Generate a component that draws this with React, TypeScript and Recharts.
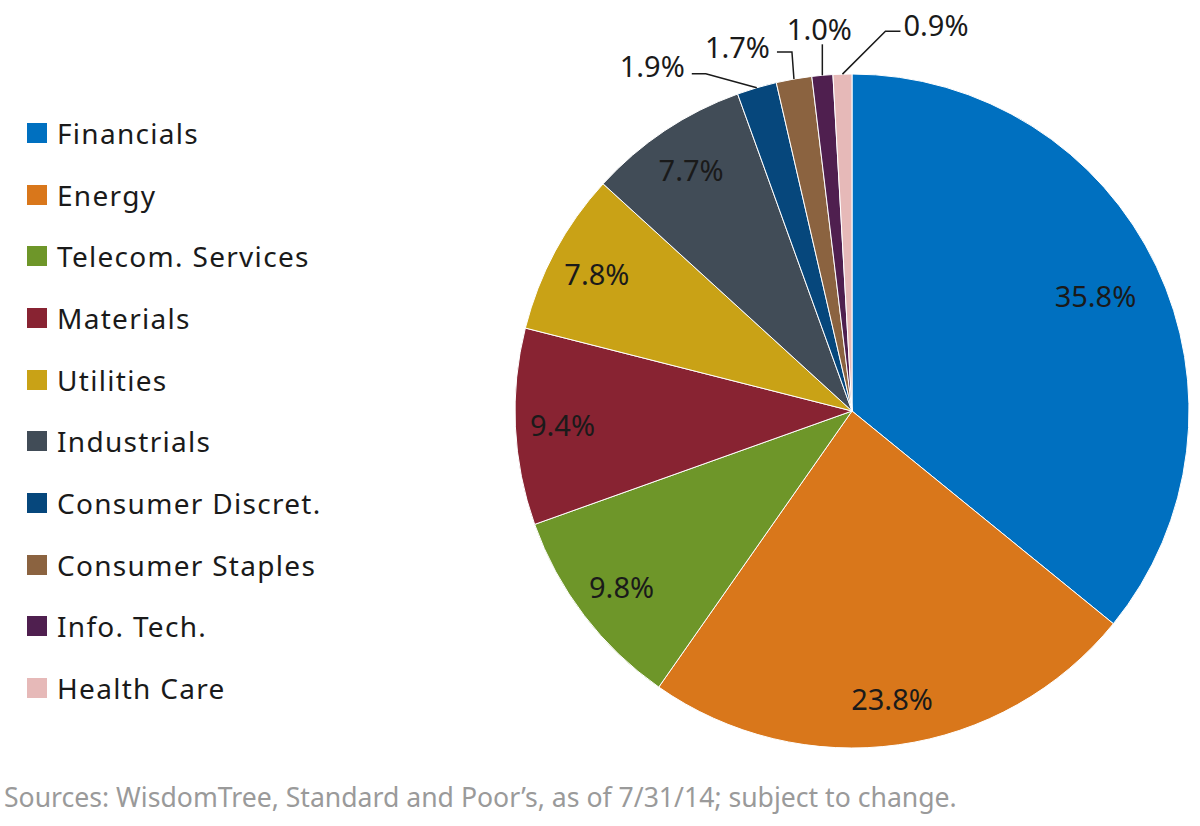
import { Cell, Pie, PieChart } from "recharts";

const sectors = [
  "Financials",
  "Energy",
  "Telecom. Services",
  "Materials",
  "Utilities",
  "Industrials",
  "Consumer Discret.",
  "Consumer Staples",
  "Info. Tech.",
  "Health Care",
];
const weights = [35.8, 23.8, 9.8, 9.4, 7.8, 7.7, 1.9, 1.7, 1.0, 0.9];
const colors = [
  "#0070C0",
  "#D9771B",
  "#6E9629",
  "#882332",
  "#C9A216",
  "#414C57",
  "#06477C",
  "#8B6340",
  "#4F1F4F",
  "#E6B9B8",
];

const data = sectors.map((name, i) => ({ name, value: weights[i] }));

// leader line callouts for thin slices, relative to the slice edge
const callouts: Record<number, { elbow: [number, number]; end: [number, number]; text: [number, number]; anchor: "start" | "middle" | "end" }> = {
  6: { elbow: [-51, -14], end: [-65, -14], text: [-72, -22], anchor: "end" },
  7: { elbow: [-2, -27], end: [-17, -27], text: [-24, -33], anchor: "end" },
  8: { elbow: [0, -31], end: [0, -31], text: [-3, -47], anchor: "middle" },
  9: { elbow: [43, -43], end: [58, -43], text: [61, -50], anchor: "start" },
};

const FONT = "'Noto Sans', 'Open Sans', sans-serif";
const RAD = Math.PI / 180;

function renderLabel(props: any) {
  const { cx, cy, midAngle, outerRadius, index, value } = props;
  const text = `${Number(value).toFixed(1)}%`;
  const cos = Math.cos(-midAngle * RAD);
  const sin = Math.sin(-midAngle * RAD);
  const c = callouts[index];
  if (c) {
    const ax = cx + outerRadius * cos;
    const ay = cy + outerRadius * sin;
    const pts = [
      [ax, ay],
      [ax + c.elbow[0], ay + c.elbow[1]],
      [ax + c.end[0], ay + c.end[1]],
    ]
      .map((p) => p.join(","))
      .join(" ");
    return (
      <g key={`lbl-${index}`}>
        <polyline points={pts} fill="none" stroke="#1a1a1a" strokeWidth={1.5} />
        <text
          x={ax + c.text[0]}
          y={ay + c.text[1]}
          textAnchor={c.anchor}
          dominantBaseline="central"
          fontFamily={FONT}
          fontSize={29}
          fill="#1a1a1a"
        >
          {text}
        </text>
      </g>
    );
  }
  const r = outerRadius * (index === 0 ? 0.8 : 0.86);
  return (
    <text
      key={`lbl-${index}`}
      x={cx + r * cos}
      y={cy + r * sin}
      textAnchor="middle"
      dominantBaseline="central"
      fontFamily={FONT}
      fontSize={29}
      fill="#1a1a1a"
    >
      {text}
    </text>
  );
}

export default function App() {
  return (
    <div style={{ position: "absolute", left: 0, top: 0, width: 1200, height: 826, background: "#fff" }}>
      <PieChart width={1200} height={826} margin={{ top: 0, right: 0, bottom: 0, left: 0 }}>
        <Pie
          data={data}
          dataKey="value"
          nameKey="name"
          cx={852}
          cy={411}
          outerRadius={337}
          startAngle={90}
          endAngle={-270}
          stroke="#ffffff"
          strokeWidth={1}
          label={renderLabel}
          labelLine={false}
          isAnimationActive={false}
        >
          {data.map((_, i) => (
            <Cell key={i} fill={colors[i]} />
          ))}
        </Pie>
      </PieChart>
      <div
        style={{
          position: "absolute",
          left: 27,
          top: 102,
          fontFamily: FONT,
          fontSize: 28,
          letterSpacing: 1.3,
          color: "#1a1a1a",
        }}
      >
        {sectors.map((s, i) => (
          <div key={s} style={{ display: "flex", alignItems: "center", height: 61.7 }}>
            <span
              style={{
                width: 20,
                height: 20,
                background: colors[i],
                display: "inline-block",
                marginRight: 10,
              }}
            />
            <span>{s}</span>
          </div>
        ))}
      </div>
      <div
        style={{
          position: "absolute",
          left: 4,
          top: 779,
          fontFamily: FONT,
          fontSize: 26.6,
          color: "#9a9a9a",
          whiteSpace: "nowrap",
        }}
      >
        Sources: WisdomTree, Standard and Poor’s, as of 7/31/14; subject to change.
      </div>
    </div>
  );
}
